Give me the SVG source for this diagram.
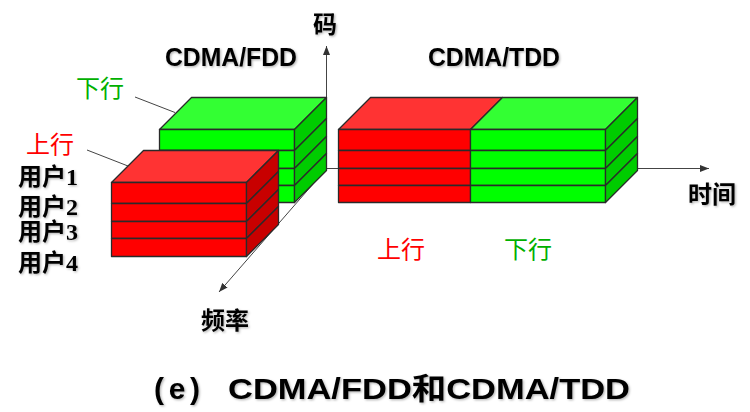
<svg xmlns="http://www.w3.org/2000/svg" width="750" height="412" viewBox="0 0 750 412">
<defs>
<marker id="arr" markerUnits="userSpaceOnUse" markerWidth="9" markerHeight="7" refX="9" refY="3.5" orient="auto">
<path d="M0,0 L9,3.5 L0,7 z" fill="#333"/>
</marker>
<filter id="sh" x="-5%" y="-20%" width="115%" height="150%">
<feDropShadow dx="1.2" dy="1.2" stdDeviation="0.8" flood-color="#000" flood-opacity="0.3"/>
</filter>
</defs>
<style>
.edge { stroke:#2a2a2a; stroke-width:1.3; stroke-linejoin:round; }
.rf { fill:#FF0000; } .rt { fill:#FF3333; } .rs { fill:#C80000; }
.gf { fill:#00FF00; } .gt { fill:#33FF33; } .gs { fill:#00CC00; }
.axis { stroke:#444; stroke-width:1; fill:none; }
.lead { stroke:#444; stroke-width:1; fill:none; }
.head { font-family:"Liberation Sans",Arial,"Noto Sans CJK SC",sans-serif; font-weight:bold; fill:#000; filter:url(#sh); }
.cjk { font-family:"Liberation Serif","Noto Sans CJK SC",serif; font-size:24px; font-weight:bold; fill:#000; filter:url(#sh); }
.red { font-family:"Noto Sans CJK SC",sans-serif; font-size:24px; fill:#FF0000; }
.grn { font-family:"Noto Sans CJK SC",sans-serif; font-size:24px; fill:#00B000; }
</style>
<rect width="750" height="412" fill="#fff"/>

<g id="connectors">
<line class="axis" x1="326.5" y1="168.5" x2="326.5" y2="46" marker-end="url(#arr)"/>
<line class="axis" x1="326.5" y1="168.5" x2="709" y2="168.5" marker-end="url(#arr)"/>
<line class="axis" x1="326.5" y1="168.5" x2="219" y2="292" marker-end="url(#arr)"/>
<line class="lead" x1="135" y1="97" x2="175" y2="112.5"/>
<line class="lead" x1="87" y1="150" x2="128" y2="166"/>
</g>

<g id="fdd-downlink" class="edge">
<polygon class="gt" points="159.5,129.5 191.5,97.5 326.5,97.5 294.5,129.5"/>
<rect class="gf" x="159.5" y="129.5" width="135" height="21"/>
<rect class="gf" x="159.5" y="150.5" width="135" height="18"/>
<rect class="gf" x="159.5" y="168.5" width="135" height="17"/>
<rect class="gf" x="159.5" y="185.5" width="135" height="17"/>
<polygon class="gs" points="294.5,129.5 326.5,97.5 326.5,118.5 294.5,150.5"/>
<polygon class="gs" points="294.5,150.5 326.5,118.5 326.5,136.5 294.5,168.5"/>
<polygon class="gs" points="294.5,168.5 326.5,136.5 326.5,153.5 294.5,185.5"/>
<polygon class="gs" points="294.5,185.5 326.5,153.5 326.5,170.5 294.5,202.5"/>
</g>

<g id="fdd-uplink" class="edge">
<polygon class="rt" points="111.5,182.5 143.5,150.5 278.5,150.5 246.5,182.5"/>
<rect class="rf" x="111.5" y="182.5" width="135" height="21"/>
<rect class="rf" x="111.5" y="203.5" width="135" height="18"/>
<rect class="rf" x="111.5" y="221.5" width="135" height="17"/>
<rect class="rf" x="111.5" y="238.5" width="135" height="18"/>
<polygon class="rs" points="246.5,182.5 278.5,150.5 278.5,171.5 246.5,203.5"/>
<polygon class="rs" points="246.5,203.5 278.5,171.5 278.5,189.5 246.5,221.5"/>
<polygon class="rs" points="246.5,221.5 278.5,189.5 278.5,206.5 246.5,238.5"/>
<polygon class="rs" points="246.5,238.5 278.5,206.5 278.5,224.5 246.5,256.5"/>
</g>

<g id="tdd-block" class="edge">
<polygon class="rt" points="338.5,129.5 370.5,97.5 502.5,97.5 470.5,129.5"/>
<polygon class="gt" points="470.5,129.5 502.5,97.5 637.5,97.5 605.5,129.5"/>
<rect class="rf" x="338.5" y="129.5" width="132" height="21"/>
<rect class="rf" x="338.5" y="150.5" width="132" height="18"/>
<rect class="rf" x="338.5" y="168.5" width="132" height="17"/>
<rect class="rf" x="338.5" y="185.5" width="132" height="17"/>
<rect class="gf" x="470.5" y="129.5" width="135" height="21"/>
<rect class="gf" x="470.5" y="150.5" width="135" height="18"/>
<rect class="gf" x="470.5" y="168.5" width="135" height="17"/>
<rect class="gf" x="470.5" y="185.5" width="135" height="17"/>
<polygon class="gs" points="605.5,129.5 637.5,97.5 637.5,118.5 605.5,150.5"/>
<polygon class="gs" points="605.5,150.5 637.5,118.5 637.5,136.5 605.5,168.5"/>
<polygon class="gs" points="605.5,168.5 637.5,136.5 637.5,153.5 605.5,185.5"/>
<polygon class="gs" points="605.5,185.5 637.5,153.5 637.5,170.5 605.5,202.5"/>
</g>

<g id="labels">
<text class="head" x="165" y="66" font-size="25" textLength="132" lengthAdjust="spacingAndGlyphs">CDMA/FDD</text>
<text class="head" x="428" y="66" font-size="25" textLength="132" lengthAdjust="spacingAndGlyphs">CDMA/TDD</text>
<text class="cjk" x="313" y="33">码</text>
<text class="grn" x="76" y="97">下行</text>
<text class="red" x="26" y="153">上行</text>
<text class="cjk" x="18" y="185">用户1</text>
<text class="cjk" x="18" y="215">用户2</text>
<text class="cjk" x="18" y="240">用户3</text>
<text class="cjk" x="18" y="271">用户4</text>
<text class="cjk" x="688" y="203">时间</text>
<text class="red" x="377" y="258">上行</text>
<text class="grn" x="504" y="258">下行</text>
<text class="cjk" x="201" y="329" font-size="25">频率</text>
<text class="head" y="399" font-size="30"><tspan x="154" textLength="46" lengthAdjust="spacing">(e)</tspan><tspan x="228" textLength="402" lengthAdjust="spacingAndGlyphs">CDMA/FDD和CDMA/TDD</tspan></text>
</g>
</svg>
